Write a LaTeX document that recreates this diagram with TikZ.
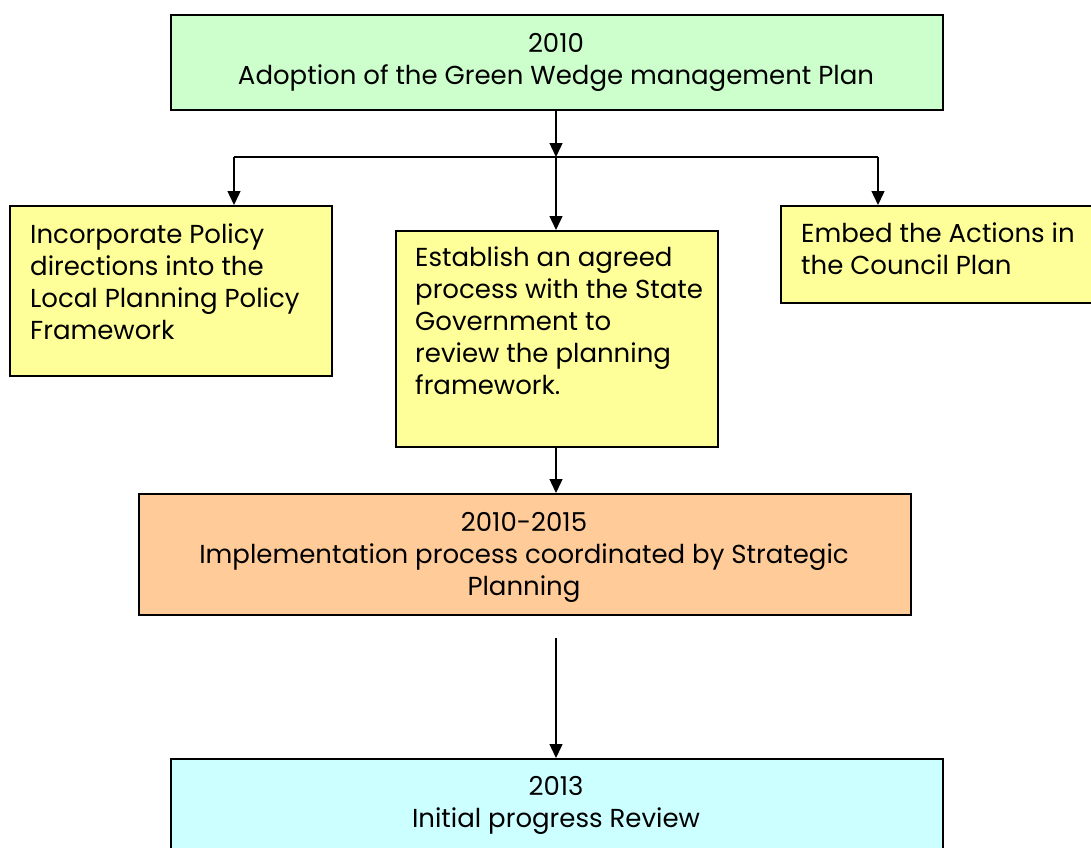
\documentclass[tikz,border=0pt]{standalone}
\usepackage{fontspec}
\setmainfont{Poppins}
\usetikzlibrary{arrows.meta}
\definecolor{gbox}{HTML}{CCFFCC}
\definecolor{ybox}{HTML}{FFFF99}
\definecolor{obox}{HTML}{FFCC99}
\definecolor{cbox}{HTML}{CCFFFF}
\tikzset{
  box/.style={draw=black, line width=1.6pt, inner sep=0pt, anchor=north west},
  ctext/.style={align=center, font=\fontsize{26}{32}\selectfont, inner sep=0pt},
  ltext/.style={align=left, font=\fontsize{26}{32}\selectfont, inner sep=0pt, anchor=north west},
  arr/.style={line width=1.4pt, -{Triangle[length=14pt,width=13pt]}},
  ln/.style={line width=1.4pt}
}
\begin{document}
\begin{tikzpicture}[x=1pt,y=-1pt]
\useasboundingbox (0,0) rectangle (1091,847);
% boxes
\node[box, fill=gbox, minimum width=772pt, minimum height=95pt] (g) at (170,14) {};
\node[box, fill=ybox, minimum width=322pt, minimum height=170pt] (y1) at (9,205) {};
\node[box, fill=ybox, minimum width=322pt, minimum height=216pt] (y2) at (395,230) {};
\node[box, fill=ybox, minimum width=312pt, minimum height=97pt] (y3) at (780,205) {};
\node[box, fill=obox, minimum width=772pt, minimum height=121pt] (o) at (138,493) {};
\node[box, fill=cbox, minimum width=772pt, minimum height=100pt] (c) at (170,758) {};
% texts
\node[ctext] (gt) at (556,62) {2010\\Adoption of the Green Wedge management Plan};
\node[ltext] (y1t) at (30,224) {Incorporate Policy\\directions into the\\Local Planning Policy\\Framework};
\node[ltext] (y2t) at (415,247) {Establish an agreed\\process with the State\\Government to\\review the planning\\framework.};
\node[ltext] (y3t) at (801,223) {Embed the Actions in\\the Council Plan};
\node[ctext] (ot) at (524,557) {2010-2015\\Implementation process coordinated by Strategic\\Planning};
\node[ctext] (ct) at (556,805) {2013\\Initial progress Review};
% connectors
\coordinate (j) at (556,157);
\coordinate (jl) at (234,157);
\coordinate (jr) at (878,157);
\coordinate (s) at (556,638);
\draw[arr] (g.south -| j) -- (j);
\draw[ln] (jl) -- (jr);
\draw[arr] (jl) -- (jl |- y1.north);
\draw[arr] (j) -- (j |- y2.north);
\draw[arr] (jr) -- (jr |- y3.north);
\draw[arr] (y2.south -| j) -- (j |- o.north);
\draw[arr] (s) -- (s |- c.north);
\end{tikzpicture}
\end{document}
